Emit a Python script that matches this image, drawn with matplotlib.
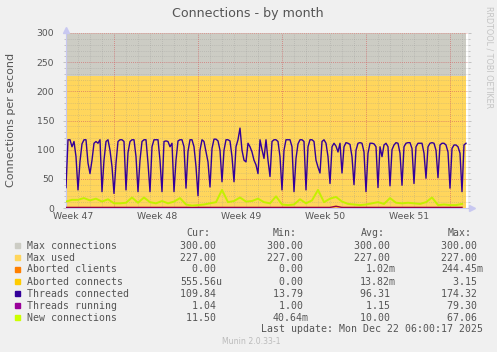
import numpy as np
import matplotlib
matplotlib.use("Agg")
import matplotlib.pyplot as plt

# threads connected, 6 samples per day (every 4h), one row per day
threads_connected = [
    35, 117, 117, 105, 114, 88,
    31, 80, 110, 117, 117, 77,
    59, 82, 111, 114, 111, 117,
    28, 82, 114, 117, 99, 71,
    25, 77, 114, 117, 117, 114,
    31, 95, 114, 117, 117, 88,
    28, 82, 114, 117, 117, 77,
    28, 105, 117, 117, 117, 82,
    28, 114, 115, 114, 105, 111,
    28, 82, 115, 117, 117, 105,
    34, 97, 117, 117, 105, 71,
    21, 99, 117, 114, 96, 79,
    36, 102, 118, 118, 115, 99,
    45, 99, 117, 117, 115, 88,
    45, 105, 117, 137, 99, 82,
    79, 111, 105, 96, 82, 74,
    59, 117, 100, 85, 117, 82,
    54, 114, 117, 117, 114, 88,
    31, 99, 117, 117, 117, 105,
    28, 85, 110, 117, 117, 114,
    31, 105, 117, 117, 114, 82,
    70, 60, 114, 117, 111, 88,
    42, 105, 111, 106, 96, 111,
    60, 105, 112, 111, 109, 88,
    40, 99, 111, 112, 111, 96,
    28, 94, 111, 111, 110, 105,
    35, 105, 88, 108, 111, 105,
    38, 100, 108, 112, 111, 94,
    39, 105, 111, 112, 112, 102,
    42, 105, 111, 111, 111, 94,
    51, 105, 111, 112, 111, 99,
    52, 108, 111, 111, 108, 96,
    34, 102, 108, 108, 105, 94,
    28, 108, 111,
]

# new connections, 2 samples per day
new_connections = [
    11, 14, 14, 17, 13, 16, 11, 15, 8, 8, 9, 18, 9, 18, 10, 8, 12, 8, 11, 17,
    6, 4, 5, 6, 8, 10, 31, 10, 12, 18, 11, 12, 16, 10, 8, 20, 6, 5, 6, 15,
    8, 13, 31, 10, 16, 19, 11, 7, 6, 5, 6, 8, 10, 7, 17, 9, 8, 9, 8, 7,
    10, 18, 5, 6, 5, 5, 7,
]
threads_running = [1.0] * 67
threads_running[45] = 3.0
aborted_clients = [0.0] * 67
aborted_connects = [0.0] * 67

max_connections = 300
max_used = 227
days_shown = 33.33

week_labels = ["Week 47", "Week 48", "Week 49", "Week 50", "Week 51"]

legend_names = ["Max connections", "Max used", "Aborted clients", "Aborted connects",
                "Threads connected", "Threads running", "New connections"]
legend_colors = ["#CCCCC4", "#FFD65C", "#FF7F00", "#FFCC00", "#330099", "#990099", "#CCFF00"]
cur_vals = ["300.00 ", "227.00 ", "0.00 ", "555.56u", "109.84 ", "1.04 ", "11.50 "]
min_vals = ["300.00 ", "227.00 ", "0.00 ", "0.00 ", "13.79 ", "1.00 ", "40.64m"]
avg_vals = ["300.00 ", "227.00 ", "1.02m", "13.82m", "96.31 ", "1.15 ", "10.00 "]
max_vals = ["300.00 ", "227.00 ", "244.45m", "3.15 ", "174.32 ", "79.30 ", "67.06 "]

W, H = 497, 352
txt = "#555555"

fig = plt.figure(figsize=(W / 100, H / 100), dpi=100, facecolor="#F0F0F0")
ax = fig.add_axes([66 / W, (H - 208) / H, 402 / W, 175 / H])
ax.set_facecolor("white")
ax.set_xlim(0, 33.5)
ax.set_ylim(0, 300)

# areas
ax.fill_between([0, days_shown], 0, max_connections, color=legend_colors[0], lw=0, zorder=1)
ax.fill_between([0, days_shown], 0, max_used, color=legend_colors[1], lw=0, zorder=1.1)

# grid
dots = (0, (1, 1.5))
for d in range(1, 34):
    ax.axvline(d, color="#909090", alpha=0.4, lw=0.6, ls=dots, zorder=1.5)
for v in range(10, 300, 10):
    ax.axhline(v, color="#909090", alpha=0.4, lw=0.6, ls=dots, zorder=1.5)
for d in [4, 11, 18, 25, 32]:
    ax.axvline(d, color="#F05050", alpha=0.6, lw=0.6, ls=dots, zorder=1.6)
for v in range(50, 301, 50):
    ax.axhline(v, color="#F05050", alpha=0.6, lw=0.6, ls=dots, zorder=1.6)

t_tc = np.arange(len(threads_connected)) / 6
t_half = np.arange(len(new_connections)) / 2
ax.plot(t_half, aborted_clients, color=legend_colors[2], lw=1, zorder=3)
ax.plot(t_half, aborted_connects, color=legend_colors[3], lw=1, zorder=3)
ax.plot(t_tc, threads_connected, color=legend_colors[4], lw=1, zorder=3)
ax.plot(t_half, threads_running, color="#990044", lw=1, zorder=3)
ax.plot(t_half, new_connections, color="#C4F000", lw=1.4, zorder=3)

for s in ["top", "right", "bottom"]:
    ax.spines[s].set_visible(False)
ax.spines["left"].set_color("#C8C8F0")
ax.plot([0, 33.85], [0, 0], color="#C8C8F0", lw=0.8, clip_on=False, zorder=0.5)
ax.plot([0], [306], marker="^", ms=5, color="#C8C8F0", clip_on=False)
ax.plot([33.85], [0], marker=">", ms=5, color="#C8C8F0", clip_on=False)

ax.set_yticks(range(0, 301, 50))
ax.set_yticks(range(0, 301, 10), minor=True)
ax.tick_params(axis="y", which="both", colors="#BBBBBB", labelcolor=txt, labelsize=6.7,
               length=2.5, width=0.6, pad=6, right=True)
ax.tick_params(axis="y", which="minor", length=1.5)
ax.set_xticks([0.6 + 7 * k for k in range(5)])
ax.set_xticklabels(week_labels)
ax.tick_params(axis="x", length=0, labelcolor=txt, labelsize=6.7, pad=3)

fig.text(248 / W, 1 - 13 / H, "Connections - by month", ha="center", va="center",
         fontsize=9.1, color=txt)
fig.text(11 / W, 1 - 120 / H, "Connections per second", ha="center", va="center",
         rotation=90, fontsize=8, color=txt)
fig.text(489 / W, 1 - 57 / H, "RRDTOOL / TOBI OETIKER", ha="center", va="center",
         rotation=270, fontsize=5.8, color="#C4C4C4")

mono = "DejaVu Sans Mono"
fs = 7.1
def px(x, y):
    return x / W, 1 - y / H

for label, x in [("Cur:", 186), ("Min:", 273), ("Avg:", 361), ("Max:", 448)]:
    fig.text(*px(x, 233.5), label, family=mono, fontsize=fs, color=txt, va="center")

row_y = [245.7, 257.7, 269.5, 281.7, 293.7, 305.7, 317.7]
for i, name in enumerate(legend_names):
    y = row_y[i]
    fig.patches.append(plt.Rectangle(px(14.5, y + 2.7), 5.5 / W, 5.5 / H,
                                     transform=fig.transFigure, color=legend_colors[i]))
    fig.text(*px(27, y), name, family=mono, fontsize=fs, color=txt, va="center")
    fig.text(*px(222, y), cur_vals[i], family=mono, fontsize=fs, color=txt, va="center", ha="right")
    fig.text(*px(309, y), min_vals[i], family=mono, fontsize=fs, color=txt, va="center", ha="right")
    fig.text(*px(396, y), avg_vals[i], family=mono, fontsize=fs, color=txt, va="center", ha="right")
    fig.text(*px(483, y), max_vals[i], family=mono, fontsize=fs, color=txt, va="center", ha="right")

fig.text(*px(483, 329.5), "Last update: Mon Dec 22 06:00:17 2025", family=mono, fontsize=fs,
         color=txt, va="center", ha="right")
fig.text(*px(251, 341), "Munin 2.0.33-1", ha="center", va="center", fontsize=5.6, color="#BBBBBB")

fig.savefig("out.png", dpi=100, facecolor=fig.get_facecolor())
